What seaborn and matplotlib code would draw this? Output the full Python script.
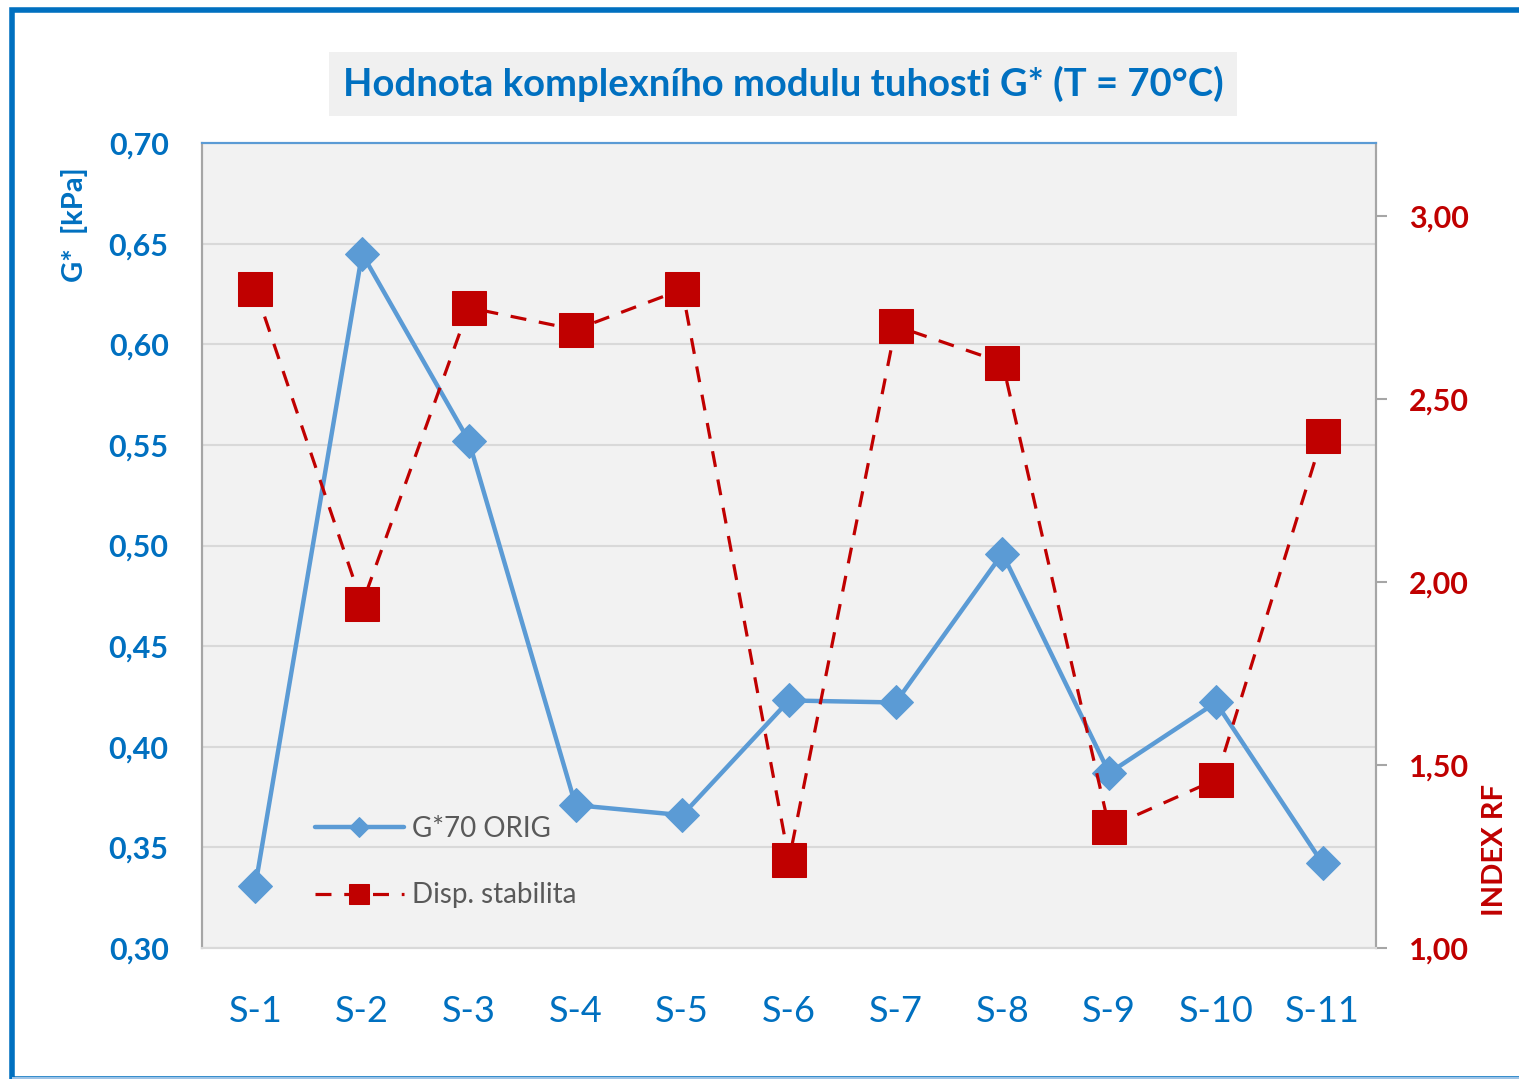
# Hodnota komplexniho modulu tuhosti G* (T = 70 C) - dual axis line chart
import matplotlib
matplotlib.use("Agg")
import matplotlib.pyplot as plt
import seaborn as sns
from matplotlib.patches import Rectangle
from matplotlib.ticker import FuncFormatter, MultipleLocator

# data
samples = ["S-1", "S-2", "S-3", "S-4", "S-5", "S-6", "S-7", "S-8", "S-9", "S-10", "S-11"]
g_star = [0.331, 0.645, 0.552, 0.371, 0.366, 0.423, 0.422, 0.496, 0.387, 0.422, 0.342]
disp_stab = [2.80, 1.94, 2.75, 2.69, 2.80, 1.24, 2.70, 2.60, 1.33, 1.46, 2.40]
g_label = "G*70 ORIG"
d_label = "Disp. stabilita"

BLUE = "#5B9BD5"
DARK_BLUE = "#0070C0"
RED = "#C00000"

sns.set_style("white")
plt.rcParams["font.family"] = ["Lato", "DejaVu Sans"]

fig = plt.figure(figsize=(15.19, 10.79), dpi=100)
ax = fig.add_axes([202 / 1519, 1 - 948 / 1079, 1174 / 1519, 805 / 1079])
ax.set_facecolor("#f2f2f2")

# primary series
sns.lineplot(x=samples, y=g_star, ax=ax, color=BLUE, linewidth=3.2,
             marker="D", markersize=17, markeredgecolor=BLUE, sort=False,
             label=g_label, legend=False)

ax.set_xlim(-0.5, len(samples) - 0.5)
ax.set_ylim(0.30, 0.70)
ax.yaxis.set_major_locator(MultipleLocator(0.05))
ax.yaxis.set_major_formatter(FuncFormatter(lambda v, _: f"{v:.2f}".replace(".", ",")))
ax.grid(axis="y", color="#d9d9d9", linewidth=1.5)
ax.set_axisbelow(True)
ax.tick_params(axis="y", length=0, pad=24, labelsize=22, labelcolor=DARK_BLUE)
ax.tick_params(axis="x", length=0, pad=34, labelsize=26, labelcolor=DARK_BLUE)
for t in ax.get_yticklabels():
    t.set_fontweight("bold")
ax.set_ylabel("G*  [kPa]", color=DARK_BLUE, fontsize=21, fontweight="bold")
ax.yaxis.set_label_coords(-0.097, 0.898)

# secondary series
ax2 = ax.twinx()
sns.lineplot(x=samples, y=disp_stab, ax=ax2, color=RED, linewidth=2.3,
             marker="s", markersize=25, markeredgecolor=RED, sort=False,
             label=d_label, legend=False)
ax2.lines[0].set_dashes((5, 4))
ax2.set_ylim(1.0, 3.2)
ax2.yaxis.set_major_locator(MultipleLocator(0.5))
ax2.yaxis.set_major_formatter(FuncFormatter(lambda v, _: f"{v:.2f}".replace(".", ",")))
ax2.tick_params(axis="y", length=8, width=1.5, color="#a6a6a6", pad=16,
                labelsize=22, labelcolor=RED)
for t in ax2.get_yticklabels():
    t.set_fontweight("bold")
ax2.set_ylabel("INDEX RF", color=RED, fontsize=21, fontweight="bold")
ax2.yaxis.set_label_coords(1.090, 0.122)

for a in (ax, ax2):
    a.spines["left"].set_color("#a6a6a6")
    a.spines["right"].set_color("#a6a6a6")
    a.spines["bottom"].set_color("#d9d9d9")
    a.spines["top"].set_color(BLUE)
    for s in a.spines.values():
        s.set_linewidth(1.5)

# legend
handles = [ax.lines[0], ax2.lines[0]]
leg = ax2.legend(handles, [g_label, d_label], loc="upper left",
                 bbox_to_anchor=(0.075, 0.195), frameon=False, fontsize=20,
                 markerscale=0.6, handlelength=3.2, handletextpad=0.3,
                 labelspacing=1.45, labelcolor="#595959")

# title with grey box
fig.text(783 / 1519, 1 - 84 / 1079, "Hodnota komplexního modulu tuhosti G* (T = 70°C)",
         ha="center", va="center", fontsize=27.5, fontweight="bold", color=DARK_BLUE,
         bbox=dict(facecolor="#f0f0f0", edgecolor="none", pad=10))

# outer frame of the chart area
fig.patches.append(Rectangle((12 / 1519, 0), 1, 1 - 10 / 1079, transform=fig.transFigure,
                             fill=False, edgecolor=DARK_BLUE, linewidth=4, zorder=0))
fig.patches.append(Rectangle((12 / 1519, 0), 1, 2 / 1079, transform=fig.transFigure,
                             facecolor="#9dc3e6", edgecolor="none", zorder=1))

fig.savefig("out.png", dpi=100)
